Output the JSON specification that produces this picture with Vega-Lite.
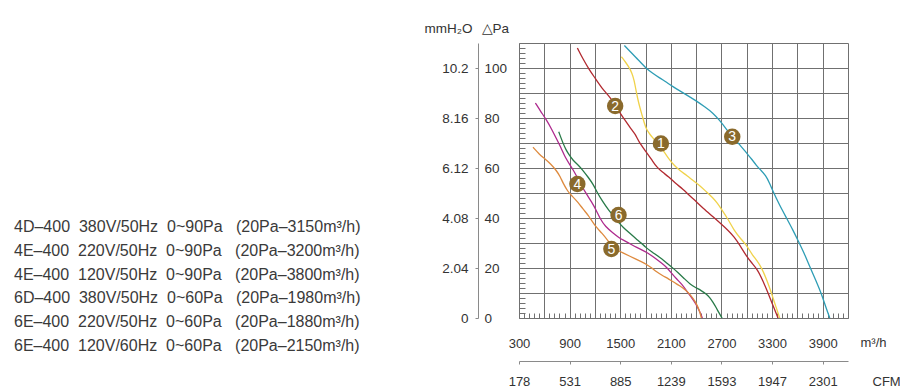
{
  "$schema": "https://vega.github.io/schema/vega-lite/v6.json",
  "width": 329,
  "height": 275,
  "autosize": {"type": "none"},
  "padding": {"left": 519, "top": 43, "right": 52, "bottom": 72},
  "background": "white",
  "config": {
    "view": {"stroke": null},
    "font": "Liberation Sans",
    "axis": {"labelFont": "Liberation Sans", "titleFont": "Liberation Sans", "titleFontWeight": "normal", "labelColor": "#333", "titleColor": "#333"},
    "legend": {"labelFont": "Liberation Sans"}
  },
  "datasets": {
    "curves": [
      {"curve": "1", "flow": 1514, "pa": 104.5}, {"curve": "1", "flow": 1560, "pa": 102.5}, {"curve": "1", "flow": 1600, "pa": 100.5}, {"curve": "1", "flow": 1640, "pa": 98}, {"curve": "1", "flow": 1665, "pa": 95}, {"curve": "1", "flow": 1685, "pa": 91.5}, {"curve": "1", "flow": 1705, "pa": 88}, {"curve": "1", "flow": 1730, "pa": 84.5}, {"curve": "1", "flow": 1760, "pa": 81}, {"curve": "1", "flow": 1785, "pa": 78}, {"curve": "1", "flow": 1810, "pa": 75.5}, {"curve": "1", "flow": 1850, "pa": 73.5}, {"curve": "1", "flow": 1900, "pa": 71.5}, {"curve": "1", "flow": 1960, "pa": 69}, {"curve": "1", "flow": 2020, "pa": 66.5}, {"curve": "1", "flow": 2080, "pa": 63.5}, {"curve": "1", "flow": 2140, "pa": 61}, {"curve": "1", "flow": 2205, "pa": 59}, {"curve": "1", "flow": 2290, "pa": 57}, {"curve": "1", "flow": 2363, "pa": 55}, {"curve": "1", "flow": 2443, "pa": 53}, {"curve": "1", "flow": 2520, "pa": 50.5}, {"curve": "1", "flow": 2600, "pa": 48}, {"curve": "1", "flow": 2650, "pa": 46}, {"curve": "1", "flow": 2700, "pa": 43.5}, {"curve": "1", "flow": 2779, "pa": 39.5}, {"curve": "1", "flow": 2850, "pa": 35}, {"curve": "1", "flow": 2920, "pa": 32}, {"curve": "1", "flow": 3000, "pa": 29}, {"curve": "1", "flow": 3060, "pa": 25.5}, {"curve": "1", "flow": 3120, "pa": 23}, {"curve": "1", "flow": 3178, "pa": 20}, {"curve": "1", "flow": 3240, "pa": 15}, {"curve": "1", "flow": 3293, "pa": 10}, {"curve": "1", "flow": 3340, "pa": 5}, {"curve": "1", "flow": 3391, "pa": 0},
      {"curve": "2", "flow": 992, "pa": 108}, {"curve": "2", "flow": 1060, "pa": 103.5}, {"curve": "2", "flow": 1130, "pa": 99.5}, {"curve": "2", "flow": 1201, "pa": 96}, {"curve": "2", "flow": 1280, "pa": 92}, {"curve": "2", "flow": 1375, "pa": 88.5}, {"curve": "2", "flow": 1437, "pa": 85.5}, {"curve": "2", "flow": 1500, "pa": 81.8}, {"curve": "2", "flow": 1560, "pa": 79}, {"curve": "2", "flow": 1620, "pa": 76}, {"curve": "2", "flow": 1680, "pa": 73.5}, {"curve": "2", "flow": 1720, "pa": 70.5}, {"curve": "2", "flow": 1800, "pa": 66.8}, {"curve": "2", "flow": 1880, "pa": 63}, {"curve": "2", "flow": 1929, "pa": 60.5}, {"curve": "2", "flow": 2000, "pa": 58.3}, {"curve": "2", "flow": 2075, "pa": 56.5}, {"curve": "2", "flow": 2150, "pa": 54}, {"curve": "2", "flow": 2245, "pa": 51.5}, {"curve": "2", "flow": 2320, "pa": 49}, {"curve": "2", "flow": 2403, "pa": 46.5}, {"curve": "2", "flow": 2480, "pa": 44}, {"curve": "2", "flow": 2600, "pa": 40.5}, {"curve": "2", "flow": 2700, "pa": 37.5}, {"curve": "2", "flow": 2780, "pa": 35}, {"curve": "2", "flow": 2850, "pa": 32.5}, {"curve": "2", "flow": 2920, "pa": 29}, {"curve": "2", "flow": 3000, "pa": 24.5}, {"curve": "2", "flow": 3060, "pa": 22}, {"curve": "2", "flow": 3125, "pa": 19.5}, {"curve": "2", "flow": 3190, "pa": 15}, {"curve": "2", "flow": 3253, "pa": 10}, {"curve": "2", "flow": 3310, "pa": 5}, {"curve": "2", "flow": 3371, "pa": 0},
      {"curve": "3", "flow": 1549, "pa": 109}, {"curve": "3", "flow": 1620, "pa": 106.5}, {"curve": "3", "flow": 1691, "pa": 104}, {"curve": "3", "flow": 1750, "pa": 102}, {"curve": "3", "flow": 1802, "pa": 100}, {"curve": "3", "flow": 1880, "pa": 98}, {"curve": "3", "flow": 1968, "pa": 96}, {"curve": "3", "flow": 2050, "pa": 94.3}, {"curve": "3", "flow": 2126, "pa": 92.5}, {"curve": "3", "flow": 2200, "pa": 91}, {"curve": "3", "flow": 2284, "pa": 89.3}, {"curve": "3", "flow": 2403, "pa": 86.8}, {"curve": "3", "flow": 2500, "pa": 84.5}, {"curve": "3", "flow": 2600, "pa": 82}, {"curve": "3", "flow": 2679, "pa": 79}, {"curve": "3", "flow": 2760, "pa": 75.5}, {"curve": "3", "flow": 2826, "pa": 72.5}, {"curve": "3", "flow": 2900, "pa": 70}, {"curve": "3", "flow": 2997, "pa": 66}, {"curve": "3", "flow": 3060, "pa": 63.5}, {"curve": "3", "flow": 3114, "pa": 61}, {"curve": "3", "flow": 3170, "pa": 59}, {"curve": "3", "flow": 3225, "pa": 57}, {"curve": "3", "flow": 3270, "pa": 54}, {"curve": "3", "flow": 3312, "pa": 50.5}, {"curve": "3", "flow": 3391, "pa": 45}, {"curve": "3", "flow": 3471, "pa": 40}, {"curve": "3", "flow": 3550, "pa": 35}, {"curve": "3", "flow": 3608, "pa": 31}, {"curve": "3", "flow": 3680, "pa": 26}, {"curve": "3", "flow": 3747, "pa": 20.5}, {"curve": "3", "flow": 3820, "pa": 15}, {"curve": "3", "flow": 3886, "pa": 9.6}, {"curve": "3", "flow": 3940, "pa": 4}, {"curve": "3", "flow": 3984, "pa": 0},
      {"curve": "4", "flow": 494, "pa": 86}, {"curve": "4", "flow": 560, "pa": 82.5}, {"curve": "4", "flow": 620, "pa": 79.5}, {"curve": "4", "flow": 680, "pa": 76}, {"curve": "4", "flow": 740, "pa": 72}, {"curve": "4", "flow": 800, "pa": 68}, {"curve": "4", "flow": 850, "pa": 64}, {"curve": "4", "flow": 920, "pa": 60.5}, {"curve": "4", "flow": 980, "pa": 57}, {"curve": "4", "flow": 1040, "pa": 53}, {"curve": "4", "flow": 1099, "pa": 49.6}, {"curve": "4", "flow": 1160, "pa": 46.5}, {"curve": "4", "flow": 1217, "pa": 43}, {"curve": "4", "flow": 1265, "pa": 39.5}, {"curve": "4", "flow": 1325, "pa": 36.5}, {"curve": "4", "flow": 1415, "pa": 34}, {"curve": "4", "flow": 1483, "pa": 32.2}, {"curve": "4", "flow": 1533, "pa": 31.2}, {"curve": "4", "flow": 1610, "pa": 29.8}, {"curve": "4", "flow": 1691, "pa": 28.3}, {"curve": "4", "flow": 1799, "pa": 26.5}, {"curve": "4", "flow": 1850, "pa": 25.5}, {"curve": "4", "flow": 1930, "pa": 23.5}, {"curve": "4", "flow": 1988, "pa": 22}, {"curve": "4", "flow": 2050, "pa": 20.3}, {"curve": "4", "flow": 2107, "pa": 18}, {"curve": "4", "flow": 2170, "pa": 15.5}, {"curve": "4", "flow": 2233, "pa": 13.5}, {"curve": "4", "flow": 2304, "pa": 10}, {"curve": "4", "flow": 2350, "pa": 8}, {"curve": "4", "flow": 2392, "pa": 6}, {"curve": "4", "flow": 2443, "pa": 2.5}, {"curve": "4", "flow": 2474, "pa": 0},
      {"curve": "5", "flow": 466, "pa": 68.3}, {"curve": "5", "flow": 540, "pa": 65.5}, {"curve": "5", "flow": 613, "pa": 63.5}, {"curve": "5", "flow": 680, "pa": 61.5}, {"curve": "5", "flow": 743, "pa": 59}, {"curve": "5", "flow": 790, "pa": 56.5}, {"curve": "5", "flow": 821, "pa": 54}, {"curve": "5", "flow": 880, "pa": 50.5}, {"curve": "5", "flow": 929, "pa": 48.8}, {"curve": "5", "flow": 1000, "pa": 46.3}, {"curve": "5", "flow": 1060, "pa": 43.5}, {"curve": "5", "flow": 1127, "pa": 40.9}, {"curve": "5", "flow": 1206, "pa": 36.5}, {"curve": "5", "flow": 1284, "pa": 34}, {"curve": "5", "flow": 1364, "pa": 30.5}, {"curve": "5", "flow": 1420, "pa": 28}, {"curve": "5", "flow": 1454, "pa": 27.3}, {"curve": "5", "flow": 1533, "pa": 26}, {"curve": "5", "flow": 1610, "pa": 24.8}, {"curve": "5", "flow": 1680, "pa": 23.6}, {"curve": "5", "flow": 1750, "pa": 22.5}, {"curve": "5", "flow": 1810, "pa": 21.5}, {"curve": "5", "flow": 1877, "pa": 20}, {"curve": "5", "flow": 1929, "pa": 18.5}, {"curve": "5", "flow": 2000, "pa": 17}, {"curve": "5", "flow": 2075, "pa": 15.6}, {"curve": "5", "flow": 2150, "pa": 14}, {"curve": "5", "flow": 2200, "pa": 13}, {"curve": "5", "flow": 2273, "pa": 11.3}, {"curve": "5", "flow": 2340, "pa": 9}, {"curve": "5", "flow": 2392, "pa": 6.5}, {"curve": "5", "flow": 2440, "pa": 3}, {"curve": "5", "flow": 2462, "pa": 0},
      {"curve": "6", "flow": 771, "pa": 74.5}, {"curve": "6", "flow": 820, "pa": 70}, {"curve": "6", "flow": 861, "pa": 67}, {"curve": "6", "flow": 890, "pa": 65.5}, {"curve": "6", "flow": 940, "pa": 63}, {"curve": "6", "flow": 1008, "pa": 61}, {"curve": "6", "flow": 1059, "pa": 59}, {"curve": "6", "flow": 1120, "pa": 56.3}, {"curve": "6", "flow": 1178, "pa": 53.6}, {"curve": "6", "flow": 1230, "pa": 50}, {"curve": "6", "flow": 1284, "pa": 47}, {"curve": "6", "flow": 1364, "pa": 43}, {"curve": "6", "flow": 1430, "pa": 40.5}, {"curve": "6", "flow": 1483, "pa": 38.2}, {"curve": "6", "flow": 1533, "pa": 36.3}, {"curve": "6", "flow": 1610, "pa": 34}, {"curve": "6", "flow": 1691, "pa": 31.6}, {"curve": "6", "flow": 1750, "pa": 30}, {"curve": "6", "flow": 1799, "pa": 28.3}, {"curve": "6", "flow": 1880, "pa": 26.3}, {"curve": "6", "flow": 1968, "pa": 24.3}, {"curve": "6", "flow": 2040, "pa": 22.3}, {"curve": "6", "flow": 2114, "pa": 20.3}, {"curve": "6", "flow": 2190, "pa": 18}, {"curve": "6", "flow": 2264, "pa": 15.6}, {"curve": "6", "flow": 2330, "pa": 13.5}, {"curve": "6", "flow": 2392, "pa": 12.2}, {"curve": "6", "flow": 2460, "pa": 11}, {"curve": "6", "flow": 2521, "pa": 9.6}, {"curve": "6", "flow": 2560, "pa": 8.3}, {"curve": "6", "flow": 2600, "pa": 6.3}, {"curve": "6", "flow": 2640, "pa": 4}, {"curve": "6", "flow": 2668, "pa": 2.2}, {"curve": "6", "flow": 2707, "pa": 0}
    ],
    "markers": [
      {"num": "1", "flow": 1982, "pa": 69.8},
      {"num": "2", "flow": 1440, "pa": 84.8},
      {"num": "3", "flow": 2828, "pa": 72.5},
      {"num": "4", "flow": 992, "pa": 53.6},
      {"num": "5", "flow": 1395, "pa": 27.6},
      {"num": "6", "flow": 1480, "pa": 41.2}
    ]
  },
  "layer": [
    {
      "data": {"name": "curves"},
      "mark": {"type": "line", "interpolate": "basis", "strokeWidth": 1.3},
      "encoding": {
        "x": {
          "field": "flow", "type": "quantitative",
          "scale": {"domain": [300, 4200], "nice": false, "zero": false},
          "axis": {
            "orient": "bottom", "offset": 0, "title": null, "labels": false, "domain": false,
            "values": [300,360,420,480,540,600,660,720,780,840,900,960,1020,1080,1140,1200,1260,1320,1380,1440,1500,1560,1620,1680,1740,1800,1860,1920,1980,2040,2100,2160,2220,2280,2340,2400,2460,2520,2580,2640,2700,2760,2820,2880,2940,3000,3060,3120,3180,3240,3300,3360,3420,3480,3540,3600,3660,3720,3780,3840,3900,3960,4020,4080,4140,4200],
            "grid": true, "gridColor": "#707070", "gridWidth": 1,
            "gridOpacity": {"condition": {"test": "(datum.value - 300) % 300 === 0", "value": 1}, "value": 0},
            "ticks": true, "tickSize": -5, "tickColor": "#707070", "tickWidth": 1
          }
        },
        "y": {
          "field": "pa", "type": "quantitative",
          "scale": {"domain": [0, 110], "nice": false, "zero": true},
          "axis": {
            "orient": "left", "offset": 0, "title": null, "labels": false, "domain": false,
            "values": [0,2,4,6,8,10,12,14,16,18,20,22,24,26,28,30,32,34,36,38,40,42,44,46,48,50,52,54,56,58,60,62,64,66,68,70,72,74,76,78,80,82,84,86,88,90,92,94,96,98,100,102,104,106,108,110],
            "grid": true, "gridColor": "#707070", "gridWidth": 1,
            "gridOpacity": {"condition": {"test": "datum.value % 10 === 0", "value": 1}, "value": 0},
            "ticks": true, "tickSize": -6, "tickColor": "#707070", "tickWidth": 1
          }
        },
        "color": {
          "field": "curve", "type": "nominal",
          "scale": {"domain": ["1", "2", "3", "4", "5", "6"], "range": ["#f0d24a", "#b22a30", "#2e9db5", "#ae2a8e", "#de8a3e", "#287a48"]},
          "legend": {
            "orient": "none", "legendX": -521, "legendY": 176, "title": null, "padding": 0,
            "symbolSize": 0, "symbolOpacity": 0, "symbolStrokeWidth": 0, "labelOffset": 0,
            "rowPadding": 7.8, "labelFontSize": 16, "labelColor": "#3a3a3a", "labelLimit": 800,
            "labelExpr": "{'1': '4D\u2013400\u00a0\u00a0380V/50Hz\u00a0\u00a00~90Pa\u00a0\u00a0\u00a0(20Pa\u20133150m\u00b3/h)', '2': '4E\u2013400\u00a0\u00a0220V/50Hz\u00a0\u00a00~90Pa\u00a0\u00a0\u00a0(20Pa\u20133200m\u00b3/h)', '3': '4E\u2013400\u00a0\u00a0120V/50Hz\u00a0\u00a00~90Pa\u00a0\u00a0\u00a0(20Pa\u20133800m\u00b3/h)', '4': '6D\u2013400\u00a0\u00a0380V/50Hz\u00a0\u00a00~60Pa\u00a0\u00a0\u00a0(20Pa\u20131980m\u00b3/h)', '5': '6E\u2013400\u00a0\u00a0220V/50Hz\u00a0\u00a00~60Pa\u00a0\u00a0\u00a0(20Pa\u20131880m\u00b3/h)', '6': '6E\u2013400\u00a0\u00a0120V/60Hz\u00a0\u00a00~60Pa\u00a0\u00a0\u00a0(20Pa\u20132150m\u00b3/h)'}[datum.value]"
          }
        }
      }
    },
    {
      "data": {"name": "markers"},
      "mark": {"type": "circle", "size": 270, "opacity": 1, "color": "#8a6a2c"},
      "encoding": {
        "x": {
          "field": "flow", "type": "quantitative",
          "scale": {"domain": [300, 4200], "nice": false, "zero": false},
          "axis": {
            "orient": "bottom", "offset": 43, "values": [300, 900, 1500, 2100, 2700, 3300, 3900], "format": "d",
            "grid": false, "domain": true, "domainColor": "#8a8a8a", "ticks": true, "tickSize": 3, "tickColor": "#8a8a8a",
            "labelBaseline": "alphabetic", "labelPadding": -17, "labelFontSize": 13, "labelFlush": false, "labelOverlap": false,
            "title": "m\u00b3/h", "titleX": 341, "titleY": -19, "titleAlign": "left", "titleBaseline": "middle", "titleAngle": 0, "titleFontSize": 13
          }
        },
        "y": {
          "field": "pa", "type": "quantitative",
          "scale": {"domain": [0, 110], "nice": false},
          "axis": {
            "orient": "left", "offset": 41, "values": [0, 20, 40, 60, 80, 100],
            "grid": false, "domain": true, "domainColor": "#8a8a8a", "ticks": true, "tickSize": 3, "tickColor": "#8a8a8a",
            "labelAlign": "left", "labelBaseline": "middle", "labelPadding": -9, "labelFontSize": 13.5, "labelFlush": false, "labelOverlap": false,
            "title": "\u25b3Pa", "titleX": 3, "titleY": -15, "titleAlign": "left", "titleBaseline": "middle", "titleAngle": 0, "titleFontSize": 13.5
          }
        }
      }
    },
    {
      "data": {"name": "markers"},
      "mark": {"type": "text", "color": "white", "fontSize": 14, "align": "center", "baseline": "middle", "dy": 0.5},
      "encoding": {
        "x": {
          "field": "flow", "type": "quantitative",
          "scale": {"domain": [300, 4200], "nice": false, "zero": false},
          "axis": {
            "orient": "bottom", "offset": 43, "values": [300, 900, 1500, 2100, 2700, 3300, 3900],
            "grid": false, "domain": false, "ticks": false, "tickSize": 0,
            "labelBaseline": "middle", "labelPadding": 20, "labelFontSize": 13, "labelFlush": false, "labelOverlap": false,
            "labelExpr": "{'300': '178', '900': '531', '1500': '885', '2100': '1239', '2700': '1593', '3300': '1947', '3900': '2301'}[datum.value]",
            "title": "CFM", "titleX": 353, "titleY": 20, "titleAlign": "left", "titleBaseline": "middle", "titleAngle": 0, "titleFontSize": 13
          }
        },
        "y": {
          "field": "pa", "type": "quantitative",
          "scale": {"domain": [0, 110], "nice": false},
          "axis": {
            "orient": "left", "offset": 51, "values": [0, 20, 40, 60, 80, 100],
            "grid": false, "domain": false, "ticks": false, "tickSize": 0,
            "labelAlign": "right", "labelBaseline": "middle", "labelPadding": 0, "labelFontSize": 13.5, "labelFlush": false, "labelOverlap": false,
            "labelExpr": "datum.value === 0 ? '0' : format(datum.value / 9.8, '.3')",
            "title": "mmH\u2082O", "titleX": 4, "titleY": -15, "titleAlign": "right", "titleBaseline": "middle", "titleAngle": 0, "titleFontSize": 13.5
          }
        },
        "text": {"field": "num", "type": "nominal"}
      }
    }
  ],
  "resolve": {"axis": {"x": "independent", "y": "independent"}}
}
